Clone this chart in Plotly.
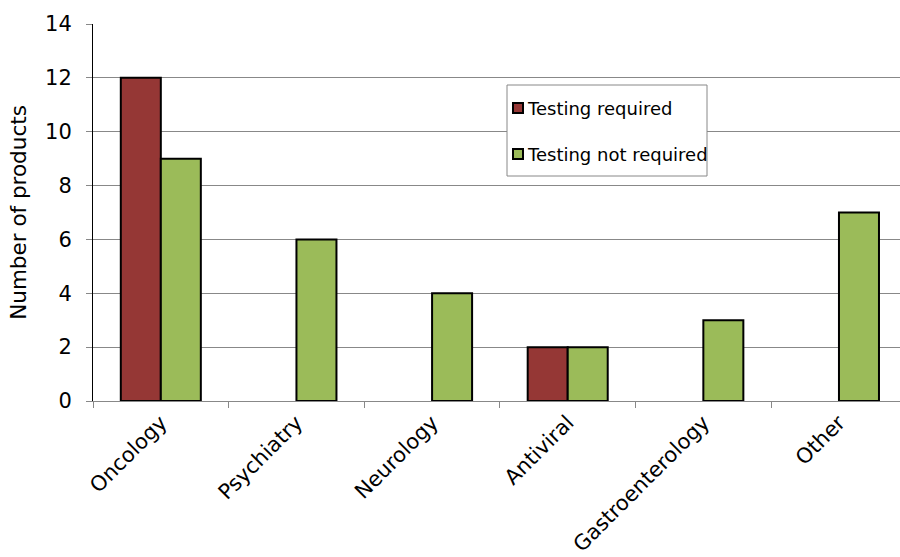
import plotly.graph_objects as go

categories = ["Oncology", "Psychiatry", "Neurology", "Antiviral", "Gastroenterology", "Other"]
testing_required = [12, 0, 0, 2, 0, 0]
testing_not_required = [9, 6, 4, 2, 3, 7]
y_ticks = [0, 2, 4, 6, 8, 10, 12, 14]
series_names = ["Testing required", "Testing not required"]
series_colors = ["#953735", "#9BBB59"]

FONT = "DejaVu Sans"


def nonzero(vals):
    return [v if v else None for v in vals]


fig = go.Figure()
for name, color, vals in zip(series_names, series_colors, [testing_required, testing_not_required]):
    fig.add_trace(go.Bar(
        x=categories, y=nonzero(vals), name=name,
        marker=dict(color=color, line=dict(color="black", width=2)),
        showlegend=False,
    ))

# Hand-drawn legend box with small square swatches
PLOT_L, PLOT_T, PLOT_W, PLOT_H = 93, 24, 807, 377


def px(x):
    return (x - PLOT_L) / PLOT_W


def py(y):
    return (PLOT_T + PLOT_H - y) / PLOT_H


shapes = [dict(type="rect", xref="paper", yref="paper",
               x0=px(507), x1=px(707), y0=py(176), y1=py(85),
               line=dict(color="#888888", width=1), fillcolor="white", layer="above")]
annotations = []
for i, (name, color) in enumerate(zip(series_names, series_colors)):
    cy = 108 + i * 46
    shapes.append(dict(type="rect", xref="paper", yref="paper",
                       x0=px(513), x1=px(523), y0=py(cy + 5), y1=py(cy - 5),
                       line=dict(color="black", width=2), fillcolor=color, layer="above"))
    annotations.append(dict(xref="paper", yref="paper", x=px(525), y=py(cy),
                            xanchor="left", yanchor="middle", showarrow=False,
                            text=name, font=dict(family=FONT, size=18, color="black")))

fig.update_layout(
    width=900, height=557,
    margin=dict(l=93, r=0, t=24, b=156),
    paper_bgcolor="white", plot_bgcolor="white",
    barmode="group", bargap=0.41, bargroupgap=0,
    font=dict(family=FONT, size=20, color="black"),
    showlegend=False,
    shapes=shapes, annotations=annotations,
    xaxis=dict(
        range=[-0.5, 5.45], tickangle=-45, tickson="boundaries",
        ticks="outside", ticklen=6, tickcolor="#888888",
        showline=True, linecolor="#888888", linewidth=1,
        tickfont=dict(family=FONT, size=21),
    ),
    yaxis=dict(
        range=[0, 14], tickvals=y_ticks,
        showgrid=True, gridcolor="#888888", gridwidth=1,
        ticks="outside", ticklen=6, tickcolor="#888888",
        showline=True, linecolor="black", linewidth=1,
        zeroline=False, ticklabelstandoff=10,
        title=dict(text="Number of products", font=dict(family=FONT, size=21.5), standoff=12),
        tickfont=dict(family=FONT, size=21),
    ),
)

fig.write_html("out.html")
